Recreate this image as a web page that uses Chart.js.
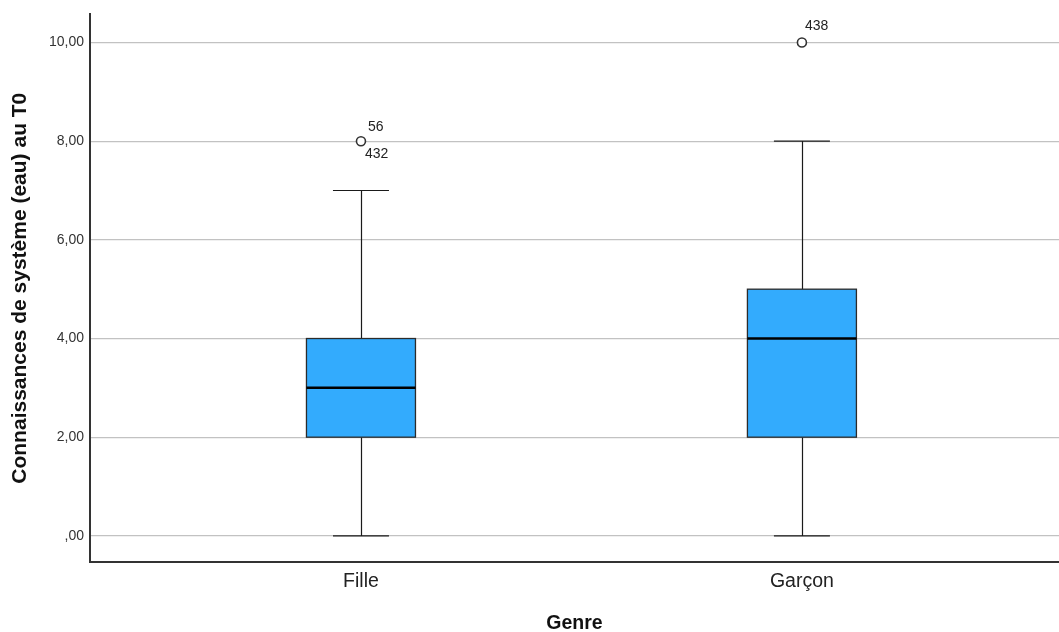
<!DOCTYPE html>
<html>
<head>
<meta charset="utf-8">
<script src="https://cdn.jsdelivr.net/npm/chart.js@4.4.1/dist/chart.umd.min.js"></script>
<style>
html,body{margin:0;padding:0;background:#fff;}
#wrap{width:1059px;height:632px;position:relative;}
</style>
</head>
<body>
<div id="wrap"><canvas id="c"></canvas></div>
<script>
// ---- data ----
const categories = ["Fille", "Garçon"];
const whiskerLow = [0, 0];
const q1 = [2, 2];
const median = [3, 4];
const q3 = [4, 5];
const whiskerHigh = [7, 8];
const outlierValues = [[8], [10]];
const outlierLabels = [["56", "432"], ["438"]];
const yTickValues = [0, 2, 4, 6, 8, 10];
const yTickLabels = [",00", "2,00", "4,00", "6,00", "8,00", "10,00"];
const xTitle = "Genre";
const yTitle = "Connaissances de système (eau) au T0";

// ---- style ----
const FONT = "'Liberation Sans', Arial, sans-serif";
const boxHalf = 0.1236, capHalf = 0.0635;

const outlierPoints = [];
outlierValues.forEach((vals, i) => vals.forEach(v => outlierPoints.push({x: i + 1, y: v, cat: i})));

const boxPlugin = {
  id: 'boxes',
  beforeDatasetsDraw(chart) {
    const ctx = chart.ctx, xs = chart.scales.x, ys = chart.scales.y;
    categories.forEach((c, i) => {
      const cx = Math.round(xs.getPixelForValue(i + 1)) + 0.5;
      const l = xs.getPixelForValue(i + 1 - boxHalf), r = xs.getPixelForValue(i + 1 + boxHalf);
      const cl = xs.getPixelForValue(i + 1 - capHalf), cr = xs.getPixelForValue(i + 1 + capHalf);
      const yLo = ys.getPixelForValue(whiskerLow[i]), yHi = ys.getPixelForValue(whiskerHigh[i]);
      const yQ1 = ys.getPixelForValue(q1[i]), yQ3 = ys.getPixelForValue(q3[i]), yM = ys.getPixelForValue(median[i]);
      ctx.save();
      ctx.strokeStyle = '#1a1a1a';
      ctx.lineWidth = 1.2;
      ctx.beginPath();
      ctx.moveTo(cx, yLo); ctx.lineTo(cx, yQ1);
      ctx.moveTo(cx, yQ3); ctx.lineTo(cx, yHi);
      ctx.moveTo(cl, yLo); ctx.lineTo(cr, yLo);
      ctx.moveTo(cl, yHi); ctx.lineTo(cr, yHi);
      ctx.stroke();
      ctx.fillStyle = '#33abfd';
      ctx.fillRect(l, yQ3, r - l, yQ1 - yQ3);
      ctx.strokeStyle = '#2b2b2b';
      ctx.lineWidth = 1.3;
      ctx.strokeRect(l, yQ3, r - l, yQ1 - yQ3);
      ctx.strokeStyle = '#000';
      ctx.lineWidth = 2.5;
      ctx.beginPath(); ctx.moveTo(l, yM); ctx.lineTo(r, yM); ctx.stroke();
      ctx.restore();
    });
  },
  afterDatasetsDraw(chart) {
    const ctx = chart.ctx;
    const meta = chart.getDatasetMeta(0);
    ctx.save();
    ctx.fillStyle = '#222';
    ctx.font = "14px " + FONT;
    ctx.textBaseline = 'middle';
    ctx.textAlign = 'left';
    meta.data.forEach((pt, k) => {
      const p = outlierPoints[k];
      const labs = outlierLabels[p.cat];
      if (labs.length === 1) {
        ctx.fillText(labs[0], pt.x + 3, pt.y - 16);
      } else {
        ctx.fillText(labs[0], pt.x + 7, pt.y - 14);
        ctx.fillText(labs[1], pt.x + 4, pt.y + 13);
      }
    });
    ctx.restore();
  }
};

new Chart(document.getElementById('c'), {
  type: 'scatter',
  data: {
    datasets: [{
      data: outlierPoints,
      pointRadius: 4.5,
      pointHoverRadius: 4.5,
      pointBorderWidth: 1.6,
      pointBorderColor: '#333',
      pointBackgroundColor: '#fff'
    }]
  },
  options: {
    responsive: true,
    maintainAspectRatio: false,
    animation: false,
    events: [],
    layout: {autoPadding: false, padding: {top: 14, right: 0, left: 0, bottom: 0}},
    plugins: {legend: {display: false}, tooltip: {enabled: false}},
    scales: {
      x: {
        type: 'linear',
        min: 0.3855,
        max: 2.583,
        afterBuildTicks(s) { s.ticks = categories.map((c, i) => ({value: i + 1})); },
        afterFit(s) { s.height = 70; },
        ticks: {
          callback: (v) => categories[v - 1],
          color: '#222',
          font: {family: FONT, size: 19.5},
          padding: 8,
          maxRotation: 0
        },
        grid: {display: false, drawTicks: false},
        border: {display: true, color: '#333', width: 2},
        title: {
          display: true, text: xTitle, color: '#111',
          font: {family: FONT, size: 19.5, weight: 'bold'},
          padding: {top: 0, bottom: -3}
        }
      },
      y: {
        type: 'linear',
        min: -0.53,
        max: 10.57,
        afterBuildTicks(s) { s.ticks = yTickValues.map(v => ({value: v})); },
        afterFit(s) { s.width = 90; },
        ticks: {
          callback: (v) => yTickLabels[yTickValues.indexOf(v)],
          color: '#333',
          font: {family: FONT, size: 14},
          padding: 6
        },
        grid: {color: '#c2c2c2', lineWidth: 1.3, drawTicks: false},
        border: {display: true, color: '#333', width: 2},
        title: {
          display: true, text: yTitle, color: '#111',
          font: {family: FONT, size: 21, weight: 'bold'},
          padding: {top: 8, bottom: 0}
        }
      }
    }
  },
  plugins: [boxPlugin]
});
</script>
</body>
</html>
